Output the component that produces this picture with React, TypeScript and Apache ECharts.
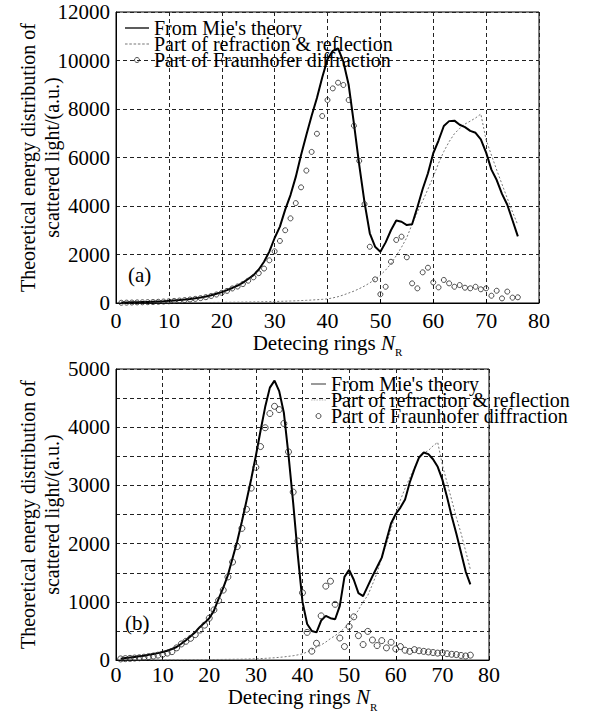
import React, { useEffect, useRef } from 'react';
import * as echarts from 'echarts';

const rings = [
  1, 2, 3, 4, 5, 6, 7, 8, 9, 10, 11, 12, 13, 14, 15, 16, 17, 18, 19, 20,
  21, 22, 23, 24, 25, 26, 27, 28, 29, 30, 31, 32, 33, 34, 35, 36, 37, 38, 39, 40,
  41, 42, 43, 44, 45, 46, 47, 48, 49, 50, 51, 52, 53, 54, 55, 56, 57, 58, 59, 60,
  61, 62, 63, 64, 65, 66, 67, 68, 69, 70, 71, 72, 73, 74, 75, 76,
];

// (a)
const mieA = [
  20, 25, 30, 35, 40, 45, 55, 65, 75, 90,
  105, 120, 140, 165, 195, 230, 270, 320, 380, 450,
  530, 620, 720, 840, 990, 1150, 1380, 1700, 2120, 2680,
  3150, 3850, 4450, 5200, 6100, 6930, 7720, 8450, 9300, 10050,
  10400, 10500, 9950, 9000, 7400, 5700, 4150, 2875, 2320, 2115,
  2500, 3000, 3400, 3350, 3215, 3250, 3950, 4700, 5350, 6175,
  6700, 7300, 7500, 7520, 7350, 7250, 7100, 7020, 6750, 6200,
  5500, 5070, 4500, 4050, 3400, 2750,
];
const refA = [
  2, 3, 4, 5, 6, 7, 8, 9, 10, 11,
  12, 13, 14, 15, 16, 18, 20, 22, 24, 26,
  28, 31, 34, 37, 40, 44, 48, 52, 57, 62,
  68, 75, 82, 90, 100, 110, 122, 135, 150, 170,
  210, 260, 330, 410, 490, 590, 700, 830, 975, 1150,
  1360, 1620, 1950, 2300, 2700, 3250, 3750, 4200, 4700, 5200,
  5760, 6250, 6650, 6980, 7200, 7380, 7500, 7630, 7795, 6720,
  6100, 5485, 4900, 4320, 3750, 3215,
];
const fraunA = [
  10, 15, 20, 25, 30, 35, 40, 50, 60, 70,
  85, 100, 120, 145, 170, 200, 240, 290, 350, 420,
  500, 600, 680, 780, 920, 1060, 1230, 1420, 1760, 2130,
  2560, 3000, 3490, 4120, 4770, 5460, 6230, 6980, 7710, 8370,
  8850, 9085, 8990, 8370, 7310, 5860, 4080, 2320, 975, 360,
  670, 1700, 2600, 2735, 1885, 810, 605, 1265, 1455, 850,
  645, 950, 810, 670, 740, 630, 605, 670, 565, 605,
  300, 505, 190, 470, 220, 235,
];

// (b)
const mieB = [
  25, 35, 45, 55, 65, 75, 90, 105, 120, 140,
  160, 190, 225, 280, 340, 410, 480, 570, 640, 720,
  850, 1050, 1240, 1460, 1750, 2040, 2380, 2740, 3110, 3510,
  3940, 4350, 4680, 4800, 4620, 4250, 3520, 2700, 1800, 1000,
  620, 500, 476, 680, 760, 720, 702, 930, 1430, 1550,
  1380, 1150, 1100, 1270, 1440, 1600, 1760, 2060, 2350, 2510,
  2620, 2760, 3050, 3280, 3480, 3566, 3537, 3450, 3320, 3100,
  2800, 2470, 2170, 1850, 1520, 1300,
];
const refB = [
  0, 0, 1, 1, 2, 2, 3, 3, 4, 4,
  5, 5, 6, 6, 7, 7, 8, 8, 9, 10,
  10, 11, 12, 13, 14, 15, 16, 18, 20, 22,
  26, 30, 35, 40, 47, 55, 65, 75, 90, 107,
  140, 180, 220, 260, 310, 370, 420, 480, 550, 630,
  740, 860, 1000, 1110, 1300, 1500, 1760, 2000, 2250, 2520,
  2750, 2950, 3130, 3300, 3480, 3560, 3600, 3680, 3740, 3350,
  3050, 2750, 2450, 2180, 1870, 1560,
];
const fraunB = [
  20, 25, 30, 35, 40, 50, 60, 70, 85, 100,
  120, 145, 210, 277, 323, 374, 437, 515, 600, 720,
  862, 1025, 1202, 1428, 1684, 1950, 2262, 2590, 2954, 3311,
  3668, 3991, 4235, 4359, 4303, 4065, 3577, 2886, 2046, 1156,
  476, 153, 289, 760, 1270, 1355, 958, 379, 233, 578,
  743, 420, 267, 493, 345, 250, 335, 210, 306, 192,
  233, 170, 150, 180, 160, 150, 140, 130, 120, 125,
  110, 100, 95, 80, 70, 85,
];

const xTicks = [0, 10, 20, 30, 40, 50, 60, 70, 80];
const yTicksA = [0, 2000, 4000, 6000, 8000, 10000, 12000];
const yTicksB = [0, 1000, 2000, 3000, 4000, 5000];

const seriesNames = [
  "From Mie's theory",
  'Part of refraction & reflection',
  'Part of Fraunhofer diffraction',
];
const panelLabels = ['(a)', '(b)'];
const xAxisTitle = 'Detecing rings {i|N}{s|R}';
const yAxisTitle = 'Theoretical energy distribution of\nscattered light/(a.u.)';

const FONT = 'Liberation Serif';

const SOLID_ICON = 'path://M0,0H30V1.6H0Z';
const DASH_ICON = 'path://M0,0H3V1H0Z M5,0H8V1H5Z M10,0H13V1H10Z M15,0H18V1H15Z M20,0H23V1H20Z M25,0H28V1H25Z';

const pairs = (ys: number[]) => rings.map((x, i) => [x, ys[i]]);

function xAxisCfg(gridIndex: number, labelMargin: number, nameGap: number) {
  return {
    type: 'value',
    gridIndex,
    min: xTicks[0],
    max: xTicks[xTicks.length - 1],
    interval: xTicks[1] - xTicks[0],
    name: xAxisTitle,
    nameLocation: 'middle',
    nameGap,
    nameTextStyle: {
      fontFamily: FONT,
      fontSize: 21,
      color: '#000',
      lineHeight: 22,
      rich: {
        i: { fontFamily: FONT, fontSize: 21, fontStyle: 'italic', color: '#000', lineHeight: 22 },
        s: { fontFamily: FONT, fontSize: 11, color: '#000', lineHeight: 22, verticalAlign: 'bottom', padding: [0, 0, -4, 0] },
      },
    },
    axisLine: { show: true, lineStyle: { color: '#000', width: 1 } },
    axisTick: { show: true, inside: true, length: 4, lineStyle: { color: '#000' } },
    axisLabel: { fontFamily: FONT, fontSize: 22, color: '#000', margin: labelMargin },
    splitLine: { show: true, lineStyle: { color: '#222', width: 1, type: [4, 3] } },
  };
}

function yAxisCfg(gridIndex: number, ticks: number[], interval: number) {
  const labelStep = ticks[1] - ticks[0];
  return {
    type: 'value',
    gridIndex,
    min: ticks[0],
    max: ticks[ticks.length - 1],
    interval,
    name: yAxisTitle,
    nameLocation: 'middle',
    nameRotate: 90,
    nameGap: 52,
    nameMoveOverlap: false,
    nameTextStyle: { fontFamily: FONT, fontSize: 20, lineHeight: 24, color: '#000' },
    axisLine: { show: true, lineStyle: { color: '#000', width: 1 } },
    axisTick: { show: false },
    axisLabel: {
      fontFamily: FONT,
      fontSize: 21,
      color: '#000',
      margin: 6,
      formatter: (v: number) => (v % labelStep === 0 ? String(v) : ''),
    },
    splitLine: { show: true, lineStyle: { color: '#222', width: 1, type: [4, 3] } },
  };
}

function seriesFor(idx: number, mie: number[], ref: number[], fr: number[], sym: number) {
  return [
    {
      name: seriesNames[0],
      type: 'line',
      xAxisIndex: idx,
      yAxisIndex: idx,
      data: pairs(mie),
      symbol: 'none',
      showSymbol: false,
      lineStyle: { color: '#000', width: 2 },
      itemStyle: { color: '#000' },
      z: 4,
    },
    {
      name: seriesNames[1],
      type: 'line',
      xAxisIndex: idx,
      yAxisIndex: idx,
      data: pairs(ref),
      symbol: 'none',
      showSymbol: false,
      lineStyle: { color: '#777', width: 1, type: [2, 2] },
      itemStyle: { color: '#777' },
      z: 3,
    },
    {
      name: seriesNames[2],
      type: 'scatter',
      xAxisIndex: idx,
      yAxisIndex: idx,
      data: pairs(fr),
      symbol: 'circle',
      symbolSize: sym,
      itemStyle: { color: 'rgba(0,0,0,0)', borderColor: '#222', borderWidth: 1 },
      z: 5,
    },
  ];
}

function legendCfg(left: number, top: number, itemWidth: number) {
  return {
    orient: 'vertical',
    left,
    top,
    itemWidth,
    itemHeight: 5,
    itemGap: -4,
    padding: 0,
    selectedMode: false,
    textStyle: { fontFamily: FONT, fontSize: 20, lineHeight: 15, color: '#000' },
    data: [
      { name: seriesNames[0], icon: SOLID_ICON, itemStyle: { color: '#000', borderWidth: 0 } },
      { name: seriesNames[1], icon: DASH_ICON, itemStyle: { color: '#777', borderWidth: 0 } },
      {
        name: seriesNames[2],
        icon: 'circle',
        itemStyle: { color: 'rgba(0,0,0,0)', borderColor: '#222', borderWidth: 1 },
      },
    ],
  };
}

export default function App() {
  const ref = useRef<HTMLDivElement>(null);
  useEffect(() => {
    if (!ref.current) return;
    const chart = echarts.init(ref.current, null, { renderer: 'svg' });
    const option: any = {
      animation: false,
      backgroundColor: '#fff',
      textStyle: { fontFamily: FONT },
      grid: [
        { left: 116, top: 12, width: 423, height: 291, show: true, borderColor: '#000', borderWidth: 1, backgroundColor: 'transparent' },
        { left: 116, top: 369, width: 373, height: 294, show: true, borderColor: '#000', borderWidth: 1, backgroundColor: 'transparent' },
      ],
      xAxis: [xAxisCfg(0, 6, 27), xAxisCfg(1, 3, 25)],
      yAxis: [yAxisCfg(0, yTicksA, 2000), yAxisCfg(1, yTicksB, 500)],
      legend: [legendCfg(125, 18, 24), legendCfg(311, 374, 15)],
      graphic: [
        { type: 'text', left: 128, top: 264, style: { text: panelLabels[0], fontFamily: FONT, fontSize: 21, fill: '#000' } },
        { type: 'text', left: 125, top: 612, style: { text: panelLabels[1], fontFamily: FONT, fontSize: 21, fill: '#000' } },
      ],
      series: [
        ...seriesFor(0, mieA, refA, fraunA, 5),
        ...seriesFor(1, mieB, refB, fraunB, 6),
      ],
    };
    chart.setOption(option);
    return () => chart.dispose();
  }, []);
  return (
    <div
      ref={ref}
      style={{ position: 'fixed', left: 0, top: 0, width: 590, height: 713, background: '#fff' }}
    />
  );
}
